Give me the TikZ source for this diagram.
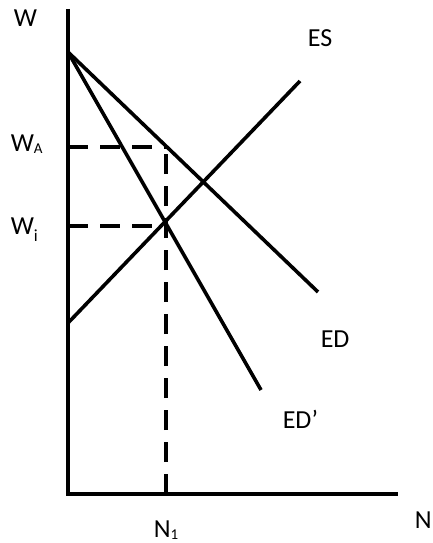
\documentclass[tikz,border=0pt]{standalone}
\usepackage{fontspec}
\setmainfont{Carlito}
\newcommand{\sbA}[1]{\raisebox{-2.5pt}{\fontsize{15}{15}\selectfont #1}}
\newcommand{\sbB}[1]{\raisebox{-7pt}{\fontsize{17}{17}\selectfont #1}}
\begin{document}
\begin{tikzpicture}[x=1pt,y=-1pt,line width=3.6pt,
  lbl/.style={inner sep=0pt,anchor=base west,font=\fontsize{26}{26}\selectfont},
  dsh/.style={line width=3.8pt,dash pattern=on 20pt off 12pt}]
\useasboundingbox (0,0) rectangle (433,543);
% axes
\coordinate (O) at (68,494);
\coordinate (Ytop) at (68,9);
\coordinate (Xend) at (398,494);
\draw (Ytop) -- (O) -- (Xend);
% curves
\coordinate (P) at (68,52);
\coordinate (EDend) at (318,292);
\coordinate (EDpend) at (261,390);
\coordinate (ESstart) at (68,323);
\coordinate (ESend) at (300,81);
\draw (P) -- (EDend);
\draw (P) -- (EDpend);
\draw (ESstart) -- (ESend);
% dashed
\coordinate (WA) at (68,147);
\coordinate (WAr) at (167,147);
\coordinate (Wi) at (68,226);
\coordinate (Wir) at (164,226);
\coordinate (N1b) at (166,494);
\coordinate (N1t) at (166,147);
\draw[dsh] (WA) -- (WAr);
\draw[dsh] (Wi) -- (Wir);
\draw[dsh] (N1b) -- (N1t);
% labels
\node[lbl] (lW) at (12,27) {W};
\node[lbl] (lWA) at (9,151) {W\sbA{A}};
\node[lbl] (lWi) at (9,234) {W\sbB{i}};
\node[lbl] (lES) at (306,47) {ES};
\node[lbl] (lED) at (319,347) {ED};
\node[lbl] (lEDp) at (281,428) {ED’};
\node[lbl] (lN1) at (152,537) {N\sbA{1}};
\node[lbl] (lN) at (413,528) {N};
\end{tikzpicture}
\end{document}
